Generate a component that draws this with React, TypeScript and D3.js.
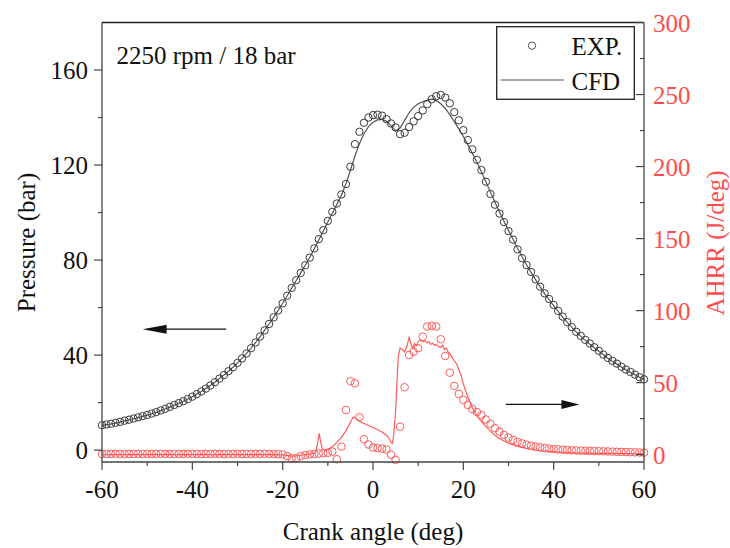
import * as d3 from "d3";

// crank angle grid for the measured points and CFD pressure (1 deg steps)
const angles = d3.range(-60, 61, 1);

// measured cylinder pressure (bar), -60 .. 60 deg
const expPressure = [
  10.5, 10.8, 11.1, 11.5, 11.9, 12.4, 12.8, 13.3, 13.8, 14.3,
  14.8, 15.4, 16.0, 16.7, 17.4, 18.2, 19.0, 19.8, 20.6, 21.5,
  22.5, 23.6, 24.7, 25.9, 27.2, 28.6, 30.1, 31.6, 33.2, 34.9,
  36.7, 38.6, 40.7, 42.9, 45.3, 47.8, 50.4, 53.1, 55.9, 58.8,
  61.8, 65.0, 68.3, 71.5, 74.6, 77.8, 81.0, 84.9, 88.8, 92.6,
  96.5, 100.3, 103.8, 107.6, 112.0, 119.3, 128.8, 134.0, 137.8, 140.0,
  141.0, 141.2, 140.8, 139.3, 137.5, 135.8, 133.0, 133.6, 136.0, 138.4,
  140.6, 143.0, 145.6, 147.7, 149.0, 149.5, 148.4, 146.0, 142.3, 138.8,
  134.7, 130.5, 126.6, 122.2, 117.9, 113.0, 107.8, 103.3, 99.6, 96.0,
  92.2, 88.6, 84.5, 80.8, 77.9, 75.0, 71.9, 68.8, 66.0, 63.6,
  61.1, 58.6, 56.2, 53.9, 51.8, 49.8, 48.1, 46.4, 44.9, 43.3,
  41.8, 40.2, 38.8, 37.6, 36.4, 35.1, 33.9, 32.9, 31.8, 30.7,
  29.8,
];

// simulated cylinder pressure (bar), -60 .. 60 deg
const cfdPressure = [
  10.4, 10.7, 11.0, 11.4, 11.8, 12.3, 12.7, 13.2, 13.7, 14.2,
  14.7, 15.3, 15.9, 16.6, 17.3, 18.1, 18.9, 19.7, 20.6, 21.5,
  22.5, 23.6, 24.7, 25.9, 27.2, 28.6, 30.1, 31.6, 33.2, 34.9,
  36.7, 38.6, 40.7, 42.9, 45.3, 47.8, 50.4, 53.1, 55.9, 58.8,
  61.8, 65.0, 68.2, 71.4, 74.6, 77.8, 81.1, 84.8, 88.5, 92.2,
  96.0, 99.7, 103.4, 107.3, 112.0, 117.8, 123.8, 129.0, 133.2, 136.2,
  138.0, 139.0, 139.2, 138.4, 136.6, 134.4, 135.6, 138.8, 142.0, 144.4,
  145.8, 146.6, 147.3, 147.7, 147.2, 145.8, 143.8, 141.2, 138.3, 135.2,
  132.0, 128.6, 125.0, 121.2, 117.2, 113.0, 108.6, 104.3, 100.2, 96.3,
  92.5, 88.8, 85.0, 81.4, 78.0, 74.8, 71.7, 68.7, 65.9, 63.3,
  60.8, 58.4, 56.0, 53.8, 51.7, 49.7, 47.9, 46.2, 44.6, 43.1,
  41.6, 40.1, 38.7, 37.4, 36.2, 35.0, 33.8, 32.7, 31.7, 30.7,
  29.7,
];

// measured apparent heat release rate (J/deg), -60 .. 60 deg
const expHrr = [
  0.4, 0.5, 0.5, 0.6, 0.5, 0.4, 0.5, 0.5, 0.6, 0.5,
  0.5, 0.4, 0.5, 0.6, 0.5, 0.5, 0.4, 0.5, 0.5, 0.6,
  0.5, 0.5, 0.4, 0.5, 0.5, 0.6, 0.5, 0.4, 0.5, 0.5,
  0.6, 0.5, 0.5, 0.4, 0.5, 0.5, 0.6, 0.5, 0.4, 0.3,
  0.2, -1.0, -2.6, -2.4, -1.0, -0.3, 0.2, 0.5, 0.7, 1.0,
  1.3, 2.1, -3.2, 5.6, 31.0, 51.0, 49.5, 26.0, 10.7, 7.0,
  5.0, 4.5, 4.2, 3.5, 0.0, -3.6, 19.4, 46.8, 69.2, 71.5,
  73.9, 81.9, 88.9, 89.4, 88.9, 80.1, 68.5, 56.9, 47.7, 42.2,
  38.0, 34.5, 31.7, 29.6, 27.4, 24.4, 21.4, 18.4, 15.9, 13.7,
  11.8, 10.2, 8.9, 7.8, 6.9, 6.2, 5.6, 5.1, 4.6, 4.2,
  3.9, 3.6, 3.4, 3.2, 3.0, 2.9, 2.8, 2.7, 2.6, 2.5,
  2.4, 2.3, 2.2, 2.1, 2.0, 1.9, 1.8, 1.7, 1.6, 1.5,
  1.4,
];

// simulated heat release rate: [crank angle, J/deg]
const cfdHrr: [number, number][] = [
  [-60, 0], [-55, 0], [-50, 0], [-45, 0], [-40, 0], [-35, 0], [-30, 0], [-25, 0], [-22, 0],
  [-20, -0.2], [-19, -0.6], [-18, -1.0], [-17, -0.8], [-16, -0.4], [-15, 0], [-14, 0.4],
  [-13, 1.0], [-12.6, 2.5], [-12.2, 9], [-11.9, 14.8], [-11.6, 9], [-11.2, 3.5], [-10.5, 2.8],
  [-10, 3.8], [-9, 5.5], [-8, 8.5], [-7, 12.0], [-6, 16.5], [-5, 22.5], [-4.5, 25.5],
  [-4.2, 26.2], [-3.5, 24.5], [-3, 23.0], [-2, 21.6], [-1, 20.2], [0, 18.8], [1, 17.3],
  [2, 15.8], [3, 13.5], [3.5, 11.5], [4.0, 8.5], [4.3, 7.8], [4.6, 14], [5.0, 30],
  [5.3, 50], [5.6, 68], [6.0, 74], [6.5, 73], [7.0, 71.5], [7.5, 75], [8.0, 81.5],
  [8.5, 76], [8.8, 74], [9.2, 77], [9.6, 75.5], [10.0, 78.5], [10.5, 79.5], [11.0, 78.5],
  [11.5, 79], [12.0, 77.5], [12.4, 78.5], [12.8, 76.5], [13.2, 77.5], [13.6, 76],
  [14.0, 76.5], [14.5, 75], [15.0, 74.5], [15.4, 76], [15.8, 73], [16.2, 74], [16.6, 71.5],
  [17.0, 70], [17.5, 67.5], [18.0, 65], [18.5, 63], [19.0, 59], [19.5, 55], [20.0, 49],
  [21, 40], [22, 32.5], [23, 27], [24, 23], [25, 19.5], [26, 16.3], [27, 13.5], [28, 11],
  [29, 9.5], [30, 8], [31, 6.8], [32, 5.8], [33, 5], [34, 4.3], [35, 3.7], [36, 3.2],
  [37, 2.8], [38, 2.5], [39, 2.2], [40, 2.0], [42, 1.6], [44, 1.3], [46, 1.1], [48, 1.0],
  [50, 0.9], [55, 0.7], [60, 0.6],
];

const xTicks = [-60, -40, -20, 0, 20, 40, 60];
const xMinor = [-50, -30, -10, 10, 30, 50];
const pTicks = [0, 40, 80, 120, 160];
const pMinor = [20, 60, 100, 140];
const hrrTicks = [0, 50, 100, 150, 200, 250, 300];
const hrrMinor = [25, 75, 125, 175, 225, 275];

const W = 730;
const H = 548;
const L = 102;
const R = 644;
const T = 22.5;
const B = 462;

const FONT =
  '"Times New Roman", Times, "Liberation Serif", Tinos, "Nimbus Roman", "Noto Serif", "DejaVu Serif", FreeSerif, serif';
const RED = "#ff4d4d";
const RED_MARK = "#ff5c5c";
const DARK = "#3a3a3a";

export default function App() {
  const x = d3.scaleLinear().domain([-60, 60]).range([L, R]);
  const yP = d3.scaleLinear().domain([-5, 180]).range([B, T]);
  const yH = d3.scaleLinear().domain([-5.1, 300]).range([B, T]);

  const pLine = d3.line<number>().x((_, i) => x(angles[i])).y((d) => yP(d));
  const hLine = d3.line<[number, number]>().x((d) => x(d[0])).y((d) => yH(d[1]));

  // arrows pointing to their axes
  const la = { x0: x(-32.5), x1: x(-51), y: yP(50.9) };
  const ra = { x0: x(29.4), x1: x(45.7), y: yH(34.9) };

  const txt = { fontFamily: FONT, fontSize: 25 };

  return (
    <svg width={W} height={H} style={{ position: "absolute", left: 0, top: 0, fontFamily: FONT }}>
      <rect width={W} height={H} fill="#fff" />

      {/* heat release */}
      <path d={hLine(cfdHrr) ?? ""} fill="none" stroke={RED_MARK} strokeWidth={1.2} />
      {expHrr.map((v, i) => (
        <circle key={"h" + i} cx={x(angles[i])} cy={yH(v)} r={3.8} fill="none" stroke={RED_MARK} strokeWidth={1} />
      ))}

      {/* pressure */}
      <path d={pLine(cfdPressure) ?? ""} fill="none" stroke="#555" strokeWidth={1.2} />
      {expPressure.map((v, i) => (
        <circle key={"p" + i} cx={x(angles[i])} cy={yP(v)} r={3.7} fill="none" stroke={DARK} strokeWidth={1} />
      ))}

      {/* frame */}
      <line x1={L} x2={R} y1={T} y2={T} stroke="#222" strokeWidth={1.3} />
      <line x1={L} x2={R} y1={B} y2={B} stroke="#444" strokeWidth={1.3} />
      <line x1={L} x2={L} y1={T} y2={B} stroke="#444" strokeWidth={1.3} />
      <line x1={R} x2={R} y1={T} y2={B} stroke="#444" strokeWidth={1.3} />

      {/* bottom axis */}
      {xTicks.map((t) => (
        <g key={"xt" + t}>
          <line x1={x(t)} x2={x(t)} y1={B} y2={B + 8} stroke="#444" strokeWidth={1.2} />
          <text x={x(t)} y={498} style={txt} textAnchor="middle" fill="#111">{t}</text>
        </g>
      ))}
      {xMinor.map((t) => (
        <line key={"xm" + t} x1={x(t)} x2={x(t)} y1={B} y2={B + 4} stroke="#444" strokeWidth={1.2} />
      ))}
      <text x={x(0)} y={540} style={txt} textAnchor="middle" fill="#111">Crank angle (deg)</text>

      {/* left axis */}
      {pTicks.map((t) => (
        <g key={"pt" + t}>
          <line x1={L - 8} x2={L} y1={yP(t)} y2={yP(t)} stroke="#444" strokeWidth={1.2} />
          <text x={L - 14} y={yP(t) + 9} style={txt} textAnchor="end" fill="#111">{t}</text>
        </g>
      ))}
      {pMinor.map((t) => (
        <line key={"pm" + t} x1={L - 4} x2={L} y1={yP(t)} y2={yP(t)} stroke="#444" strokeWidth={1.2} />
      ))}
      <text transform={`translate(35,242.5) rotate(-90)`} style={txt} textAnchor="middle" fill="#111">
        Pressure (bar)
      </text>

      {/* right axis */}
      {hrrTicks.map((t) => (
        <g key={"ht" + t}>
          <line x1={R - 8} x2={R} y1={yH(t)} y2={yH(t)} stroke="#444" strokeWidth={1.2} />
          <text x={R + 9} y={yH(t) + 9} style={txt} fill={RED}>{t}</text>
        </g>
      ))}
      {hrrMinor.map((t) => (
        <line key={"hm" + t} x1={R - 4} x2={R} y1={yH(t)} y2={yH(t)} stroke="#444" strokeWidth={1.2} />
      ))}
      <text transform={`translate(724,243) rotate(-90)`} style={txt} textAnchor="middle" fill={RED}>
        AHRR (J/deg)
      </text>

      {/* arrows */}
      <line x1={la.x0} x2={la.x1 + 20} y1={la.y} y2={la.y} stroke="#111" strokeWidth={1.3} />
      <path d={`M${la.x1},${la.y}L${la.x1 + 24},${la.y - 4.5}L${la.x1 + 24},${la.y + 4.5}Z`} fill="#111" />
      <line x1={ra.x0} x2={ra.x1 - 15} y1={ra.y} y2={ra.y} stroke="#111" strokeWidth={1.3} />
      <path d={`M${ra.x1},${ra.y}L${ra.x1 - 18},${ra.y - 4.5}L${ra.x1 - 18},${ra.y + 4.5}Z`} fill="#111" />

      {/* condition label */}
      <text x={116.5} y={64} style={txt} fill="#111">2250 rpm / 18 bar</text>

      {/* legend */}
      <rect x={496.7} y={26.7} width={137.6} height={72.6} fill="#fff" stroke="#222" strokeWidth={1.3} />
      <circle cx={532} cy={45.7} r={3.7} fill="none" stroke="#555" strokeWidth={1} />
      <text x={571.5} y={55} style={txt} fill="#111">EXP.</text>
      <line x1={500.7} x2={564} y1={80} y2={80} stroke="#555" strokeWidth={1.2} />
      <text x={571.5} y={90} style={txt} fill="#111">CFD</text>
    </svg>
  );
}
